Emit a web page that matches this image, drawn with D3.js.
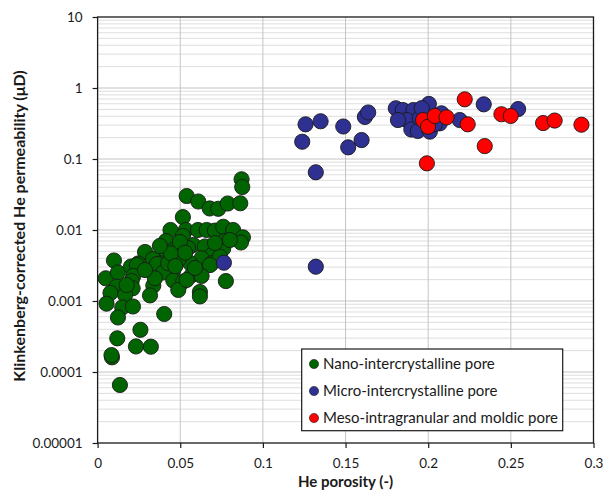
<!DOCTYPE html>
<html>
<head>
<meta charset="utf-8">
<script src="https://cdn.jsdelivr.net/npm/d3@7"></script>
<style>
  html, body { margin: 0; padding: 0; background: #ffffff; }
  svg { display: block; }
  text { font-family: Lato, "Open Sans", "DejaVu Sans", sans-serif; fill: #1a1a1a; }
</style>
</head>
<body>
<svg id="chart" width="603" height="492"></svg>
<script>
// He porosity (fraction) and Klinkenberg-corrected He permeability (µD), by pore type
const nanoPorosity = [
  0.0871, 0.0875, 0.0539, 0.0609, 0.0678, 0.0730, 0.0787, 0.0863,
  0.0516, 0.0441, 0.0534, 0.0607, 0.0660, 0.0710, 0.0760, 0.0820, 0.0879, 0.0867, 0.0770,
  0.0516, 0.0414, 0.0459, 0.0579, 0.0649, 0.0760, 0.0692, 0.0629, 0.0559, 0.0488, 0.0414,
  0.0377, 0.0287, 0.0335, 0.0246, 0.0359, 0.0690, 0.0740, 0.0680, 0.0458, 0.0397,
  0.0458, 0.0518, 0.0569, 0.0629, 0.0619, 0.0619, 0.0776, 0.0337, 0.0317, 0.0488,
  0.0347, 0.0099, 0.0049, 0.0123, 0.0202, 0.0238, 0.0216, 0.0206, 0.0212, 0.0115,
  0.0078, 0.0166, 0.0054, 0.0149, 0.0214, 0.0123, 0.0403, 0.0119, 0.0259, 0.0232,
  0.0322, 0.0087, 0.0084, 0.0135, 0.0176, 0.0427, 0.0444, 0.0539,
  0.0547, 0.0710, 0.0498, 0.0377, 0.0800, 0.0589, 0.0287, 0.0470, 0.0530
];
const nanoPermeability = [
  0.0518, 0.0403, 0.0301, 0.0252, 0.0201, 0.0199, 0.0236, 0.0238,
  0.0152, 0.0100, 0.0100, 0.0100, 0.0100, 0.0098, 0.0111, 0.0100, 0.00789, 0.00667, 0.00700,
  0.00823, 0.00700, 0.00523, 0.00615, 0.00586, 0.00549, 0.00445, 0.00399, 0.00343, 0.00378, 0.00417,
  0.00340, 0.00490, 0.00391, 0.00338, 0.00332, 0.00340, 0.00421, 0.00321, 0.00273, 0.00252,
  0.00194, 0.00188, 0.00232, 0.00225, 0.00134, 0.00116, 0.00191, 0.00165, 0.00120, 0.00143,
  0.00209, 0.00372, 0.00209, 0.00252, 0.00306, 0.00321, 0.00225, 0.00191, 0.00151, 0.00159,
  0.00130, 0.00122, 0.000917, 0.000810, 0.000837, 0.000586, 0.000656, 0.000298, 0.000393, 0.000229,
  0.000227, 0.000161, 0.000173, 0.0000656, 0.00168, 0.00340, 0.00470, 0.00198,
  0.00557, 0.00656, 0.00678, 0.00596, 0.00723, 0.00292, 0.00273, 0.00310, 0.00480
];

const microPorosity = [
  0.1258, 0.1349, 0.1238, 0.1320, 0.1486, 0.1516, 0.1597, 0.1617, 0.1637,
  0.1804, 0.1846, 0.1911, 0.1871, 0.1898, 0.1937, 0.2004, 0.2010, 0.2070,
  0.2080, 0.2191, 0.2336, 0.2544, 0.0764, 0.1320, 0.1949, 0.1961, 0.1817, 0.2040
];
const microPermeability = [
  0.308, 0.340, 0.175, 0.065, 0.287, 0.146, 0.185, 0.391, 0.452,
  0.518, 0.490, 0.490, 0.354, 0.260, 0.248, 0.596, 0.243, 0.318,
  0.440, 0.354, 0.589, 0.506, 0.00346, 0.00304, 0.378, 0.520, 0.354, 0.310
];

const mesoPorosity = [
  0.2221, 0.2443, 0.2499, 0.2695, 0.2765, 0.2927, 0.2239,
  0.2342, 0.1992, 0.1969, 0.1999, 0.2040, 0.2111
];
const mesoPermeability = [
  0.693, 0.427, 0.404, 0.321, 0.348, 0.304, 0.308,
  0.152, 0.0869, 0.354, 0.285, 0.404, 0.386
];

const seriesNames = [
  "Nano-intercrystalline pore",
  "Micro-intercrystalline pore",
  "Meso-intragranular and moldic pore"
];
const seriesColors = ["#006400", "#2e3192", "#ff0000"];

const xTickValues = [0, 0.05, 0.1, 0.15, 0.2, 0.25, 0.3];
const xTickLabels = ["0", "0.05", "0.1", "0.15", "0.2", "0.25", "0.3"];
const yTickValues = [1e-5, 1e-4, 1e-3, 1e-2, 1e-1, 1, 10];
const yTickLabels = ["0.00001", "0.0001", "0.001", "0.01", "0.1", "1", "10"];

const xTitle = "He porosity (-)";
const yTitle = "Klinkenberg-corrected He permeability (μD)";

// ---- layout ----
const svg = d3.select("#chart");
const plot = { left: 97.6, right: 593.5, top: 17, bottom: 443 };

const x = d3.scaleLinear().domain([0, 0.3]).range([plot.left, plot.right]);
const y = d3.scaleLog().domain([1e-5, 10]).range([plot.bottom, plot.top]);

// minor grid (2..9 within each decade)
const minorVals = [];
for (let e = -5; e < 1; e++) {
  for (let m = 2; m <= 9; m++) minorVals.push(m * Math.pow(10, e));
}
const grid = svg.append("g");
grid.selectAll("line.minor").data(minorVals).join("line")
  .attr("class", "minor")
  .attr("x1", plot.left).attr("x2", plot.right)
  .attr("y1", d => y(d)).attr("y2", d => y(d))
  .attr("stroke", "#dedede").attr("stroke-width", 1);
grid.selectAll("line.majorY").data(yTickValues.slice(1, -1)).join("line")
  .attr("class", "majorY")
  .attr("x1", plot.left).attr("x2", plot.right)
  .attr("y1", d => y(d)).attr("y2", d => y(d))
  .attr("stroke", "#c4c4c4").attr("stroke-width", 1);
grid.selectAll("line.majorX").data(xTickValues.slice(1, -1)).join("line")
  .attr("class", "majorX")
  .attr("y1", plot.top).attr("y2", plot.bottom)
  .attr("x1", d => x(d)).attr("x2", d => x(d))
  .attr("stroke", "#c4c4c4").attr("stroke-width", 1);

// points: nano first, then micro, meso on top
const series = [
  { name: seriesNames[0], color: seriesColors[0], data: d3.zip(nanoPorosity, nanoPermeability) },
  { name: seriesNames[1], color: seriesColors[1], data: d3.zip(microPorosity, microPermeability) },
  { name: seriesNames[2], color: seriesColors[2], data: d3.zip(mesoPorosity, mesoPermeability) }
];
series.forEach(s => {
  svg.append("g").selectAll("circle").data(s.data).join("circle")
    .attr("cx", d => x(d[0]))
    .attr("cy", d => y(d[1]))
    .attr("r", 7.6)
    .attr("fill", s.color)
    .attr("stroke", "#1a1a1a")
    .attr("stroke-width", 0.9);
});

// frame
svg.append("rect")
  .attr("x", plot.left).attr("y", plot.top)
  .attr("width", plot.right - plot.left).attr("height", plot.bottom - plot.top)
  .attr("fill", "none").attr("stroke", "#1a1a1a").attr("stroke-width", 1.3);

// axes
const xAxis = d3.axisBottom(x)
  .tickValues(xTickValues)
  .tickFormat((d, i) => xTickLabels[i])
  .tickSizeInner(5).tickSizeOuter(0).tickPadding(10);
const gx = svg.append("g").attr("transform", `translate(0,${plot.bottom})`).call(xAxis);
gx.select(".domain").remove();
gx.selectAll("line").attr("stroke", "#1a1a1a").attr("stroke-width", 1.2);
gx.selectAll("text").attr("font-size", 13.5).attr("font-family", "Lato, sans-serif").attr("fill", "#1a1a1a");

const yAxis = d3.axisLeft(y)
  .tickValues(yTickValues)
  .tickFormat((d, i) => yTickLabels[i])
  .tickSizeInner(5).tickSizeOuter(0).tickPadding(10);
const gy = svg.append("g").attr("transform", `translate(${plot.left},0)`).call(yAxis);
gy.select(".domain").remove();
gy.selectAll("line").attr("stroke", "#1a1a1a").attr("stroke-width", 1.2);
gy.selectAll("text").attr("font-size", 13.5).attr("font-family", "Lato, sans-serif").attr("fill", "#1a1a1a");

// axis titles
svg.append("text")
  .attr("x", (plot.left + plot.right) / 2).attr("y", 487)
  .attr("text-anchor", "middle")
  .attr("font-size", 15).attr("font-weight", "bold")
  .text(xTitle);
svg.append("text")
  .attr("transform", `translate(25,${(plot.top + plot.bottom) / 2 - 4}) rotate(-90)`)
  .attr("text-anchor", "middle")
  .attr("font-size", 16).attr("font-weight", "bold")
  .text(yTitle);

// legend
const legend = svg.append("g");
legend.append("rect")
  .attr("x", 301.7).attr("y", 349)
  .attr("width", 261).attr("height", 81.7)
  .attr("fill", "#ffffff").attr("stroke", "#1a1a1a").attr("stroke-width", 1.2);
const rows = legend.selectAll("g.row").data(series).join("g")
  .attr("class", "row")
  .attr("transform", (d, i) => `translate(314,${364 + i * 27})`);
rows.append("circle").attr("r", 4.6)
  .attr("fill", d => d.color).attr("stroke", "#1a1a1a").attr("stroke-width", 0.6);
rows.append("text").attr("x", 9).attr("dy", "0.35em")
  .attr("font-size", 15)
  .text(d => d.name);
</script>
</body>
</html>
